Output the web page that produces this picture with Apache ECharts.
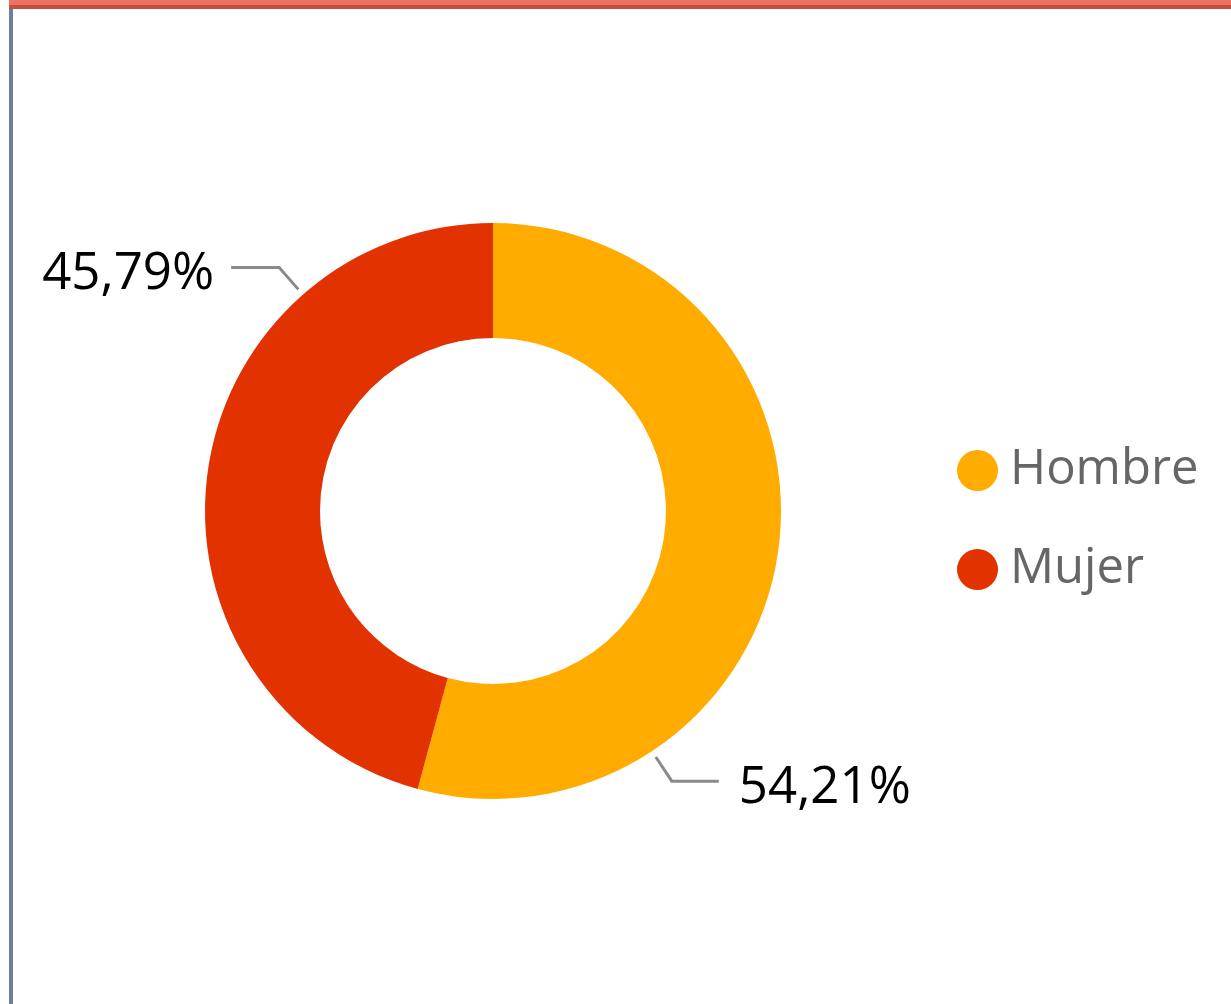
<!DOCTYPE html>
<html>
<head>
<meta charset="utf-8">
<script src="https://cdn.jsdelivr.net/npm/echarts@6/dist/echarts.min.js"></script>
<style>
  html, body { margin: 0; padding: 0; background: #fff; }
  #frame { position: absolute; left: 9px; top: 0; width: 1222px; height: 1004px; }
  #topA { position: absolute; left: 0; top: 0; width: 100%; height: 5px; background: #ee7262; }
  #topB { position: absolute; left: 0; top: 5px; width: 100%; height: 4px; background: #c44e42; }
  #leftBar { position: absolute; left: 0; top: 9px; width: 4px; height: 995px; background: #6e7f9a; }
  #chart { position: absolute; left: 0; top: 0; width: 1231px; height: 1004px; }
</style>
</head>
<body>
<div id="chart"></div>
<div id="frame">
  <div id="topA"></div>
  <div id="topB"></div>
  <div id="leftBar"></div>
</div>
<script>
// datos
var categories = ['Hombre', 'Mujer'];
var percentValues = [54.21, 45.79];
var colors = ['#ffab00', '#e13200'];

// angulo de la linea de etiqueta (grados), estilo Power BI
var labelAngles = [-56.5, 131.3];

var cx = 493, cy = 511, rOuter = 288, rInner = 173;

var chart = echarts.init(document.getElementById('chart'));

function fmt(v) {
    return v.toFixed(2).replace('.', ',') + '%';
}

chart.setOption({
    animation: false,
    color: colors,
    legend: {
        orient: 'vertical',
        left: 952,
        top: 441,
        icon: 'circle',
        itemWidth: 41,
        itemHeight: 41,
        itemGap: 50,
        data: categories,
        textStyle: {
            fontFamily: 'Open Sans',
            fontSize: 49,
            color: '#666666',
            lineHeight: 40,
            padding: [0, 0, 0, 7]
        }
    },
    series: [{
        type: 'pie',
        center: [cx, cy],
        radius: [rInner, rOuter],
        startAngle: 90,
        clockwise: true,
        avoidLabelOverlap: false,
        emphasis: { disabled: true },
        label: {
            show: true,
            formatter: function (p) { return fmt(p.value); },
            fontFamily: 'Open Sans',
            fontSize: 51,
            color: '#000000'
        },
        labelLine: {
            show: true,
            lineStyle: { color: '#8a8a8a', width: 3 }
        },
        labelLayout: function (params) {
            var a = labelAngles[params.dataIndex] * Math.PI / 180;
            var p1 = [cx + 295 * Math.cos(a), cy - 295 * Math.sin(a)];
            var p2 = [cx + 324 * Math.cos(a), cy - 324 * Math.sin(a)];
            var right = Math.cos(a) > 0;
            var p3 = [p2[0] + (right ? 47 : -48), p2[1]];
            return {
                x: p3[0] + (right ? 20 : -17),
                y: p3[1] + 7,
                align: right ? 'left' : 'right',
                verticalAlign: 'middle',
                labelLinePoints: [p1, p2, p3]
            };
        },
        data: categories.map(function (c, i) {
            return { name: c, value: percentValues[i] };
        })
    }]
});
</script>
</body>
</html>
